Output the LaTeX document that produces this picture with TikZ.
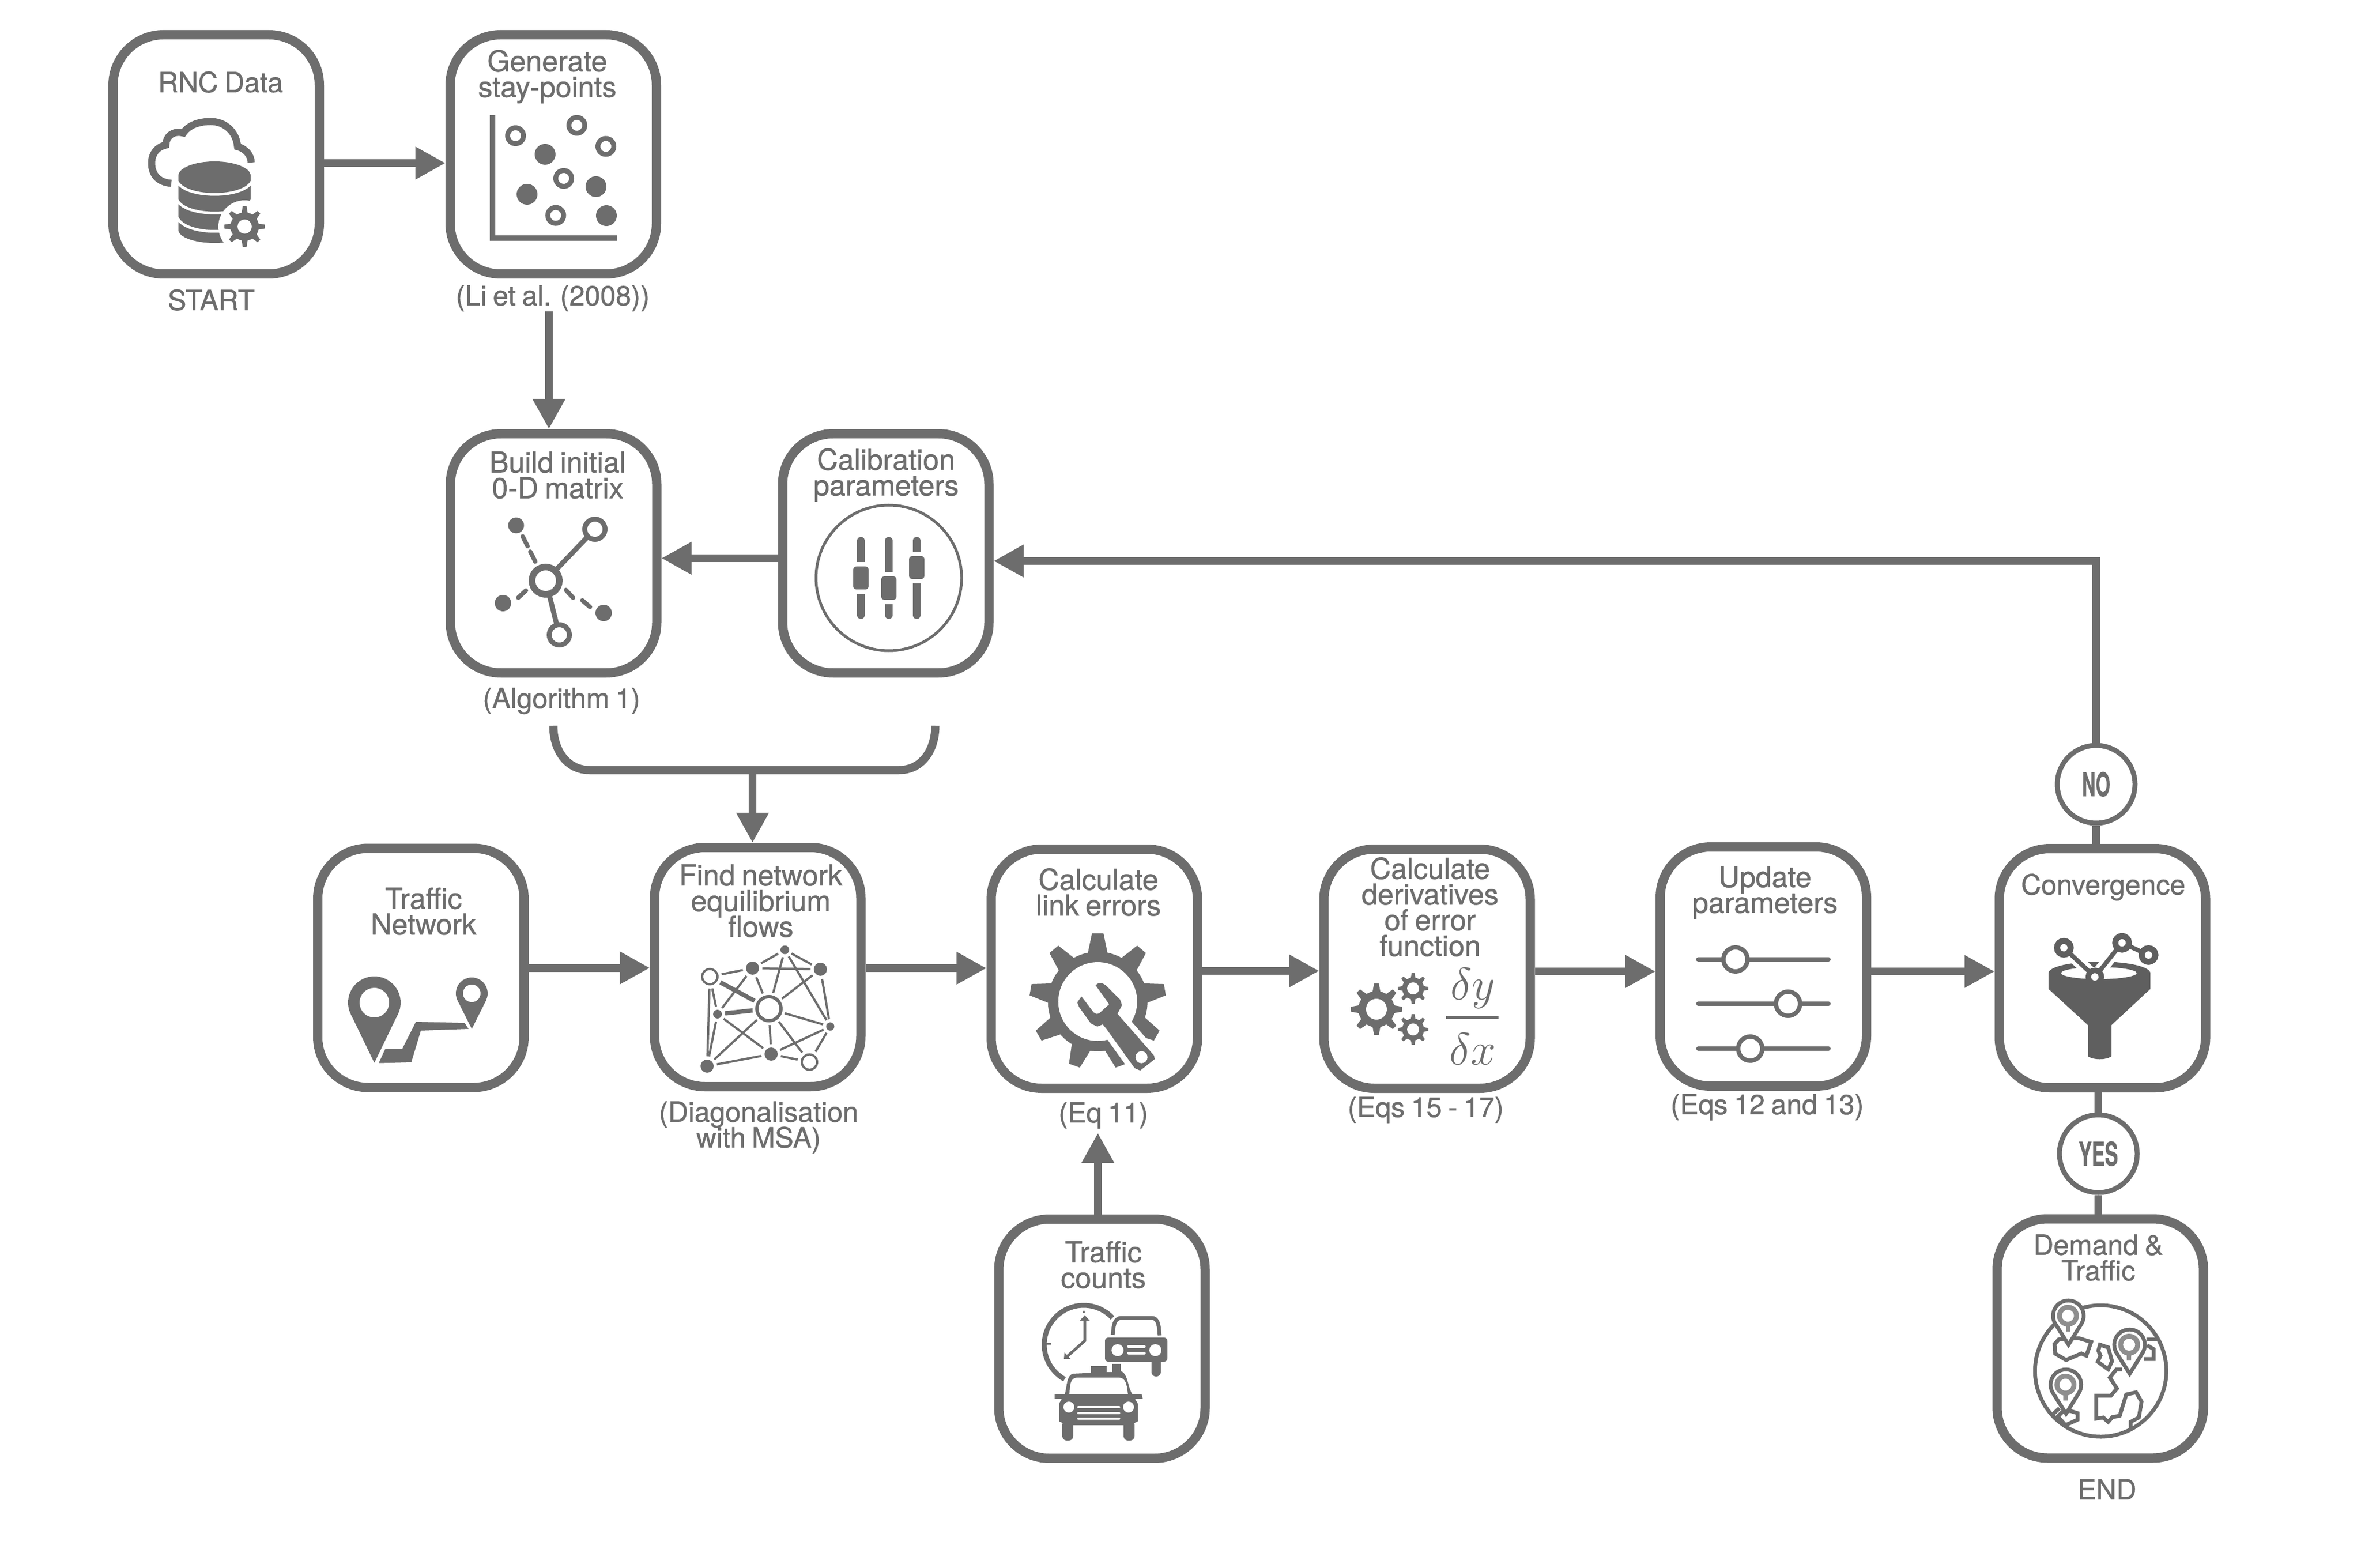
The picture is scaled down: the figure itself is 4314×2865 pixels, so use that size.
\documentclass[tikz,border=0pt]{standalone}
\usepackage{fontspec}
\setmainfont{TeX Gyre Heros}[FakeBold=0.8,WordSpace=0.8]
\usetikzlibrary{arrows.meta}
\definecolor{ink}{HTML}{6D6D6D}
\definecolor{inkdark}{HTML}{5F5F5F}
\definecolor{inklight}{HTML}{8E8E8E}
\newcommand{\lblfont}{\fontsize{13.2}{11.75}\selectfont\lineskiplimit -20pt\relax}
\newcommand{\capfont}{\fontsize{12.7}{11.75}\selectfont\lineskiplimit -20pt\relax}
\tikzset{
  lw/.style={line width=#1*0.25pt},
  cardbox/.style={draw=ink,fill=white,line width=4.25pt,rounded corners=23pt,minimum width=94.25pt,minimum height=109.25pt,inner sep=0pt,outer sep=2.125pt},
  lbl/.style={text=ink,align=center,inner sep=0pt,font=\lblfont},
  captn/.style={text=ink,align=center,inner sep=0pt,font=\capfont},
  conn/.style={draw=ink,line width=3.5pt,-{Triangle[length=13.75pt,width=14pt]}},
  plainline/.style={draw=ink,line width=3.5pt},
  decision/.style={circle,draw=ink,fill=white,line width=2.25pt,minimum size=35.5pt,inner sep=0pt,text=ink,font=\fontsize{15}{15}\selectfont\bfseries},
  netfull/.style={circle,fill=ink,inner sep=0pt,outer sep=1.5pt},
  netopen/.style={circle,draw=ink,fill=white,inner sep=0pt,outer sep=2pt},
  netedge/.style={draw=ink,line width=1pt},
  nrad/.style={minimum size=#1*0.5pt},
}
% x, y, outer radius, body radius, hole radius, teeth, phase
\newcommand{\gearicon}[7]{%
  \fill[ink] (#1,#2) circle (#4);
  \pgfmathsetmacro\gearstep{360/#6}
  \foreach \gk in {1,...,#6}{
    \pgfmathsetmacro\ga{\gk*\gearstep+#7}
    \fill[ink] ([shift={(#1,#2)}]\ga-\gearstep*0.29:#4-1) -- ([shift={(#1,#2)}]\ga-\gearstep*0.12:#3) -- ([shift={(#1,#2)}]\ga+\gearstep*0.12:#3) -- ([shift={(#1,#2)}]\ga+\gearstep*0.29:#4-1) -- cycle;
  }
  \fill[white] (#1,#2) circle (#5);
}
% x, head centre y, tip y
\newcommand{\globepin}[3]{%
  \filldraw[fill=white,draw=ink,lw=7,line join=miter] (#1,#3) -- (#1-24,#2+15) arc [start angle=148,end angle=392,radius=28] -- cycle;
  \draw[inklight,lw=9] (#1-1,#2) circle (15.5);
  \fill[inklight] (#1-5,#2+18) rectangle (#1+3,#2+29);
}
\begin{document}
\begin{tikzpicture}[x=0.25pt,y=-0.25pt]
\useasboundingbox (0,0) rectangle (4314,2865);
\fill[white] (0,0) rectangle (4314,2865);

% ---------- cards
\node[cardbox] (rnc) at (395,282) {};
\node[cardbox] (gen) at (1011,282) {};
\node[cardbox] (build) at (1011.5,1011) {};
\node[cardbox] (calib) at (1618.5,1011) {};
\node[cardbox] (tn) at (769,1768.5) {};
\node[cardbox] (find) at (1384.5,1767) {};
\node[cardbox] (calc) at (1999.5,1770) {};
\node[cardbox] (deriv) at (2607.5,1770) {};
\node[cardbox] (upd) at (3222,1766) {};
\node[cardbox] (conv) at (3841.5,1769) {};
\node[cardbox] (cnt) at (2013.5,2446) {};
\node[cardbox] (dem) at (3837.5,2445.5) {};
\node[decision] (no) at (3830,1433) {\scalebox{.57}[1]{NO}};
\node[decision] (yes) at (3834,2108) {\scalebox{.6}[1]{YES}};

% ---------- connectors
\coordinate (gentail) at (1003,569);
\coordinate (brL) at (1011,1326);
\coordinate (brR) at (1709,1326);
\coordinate (brMid) at (1375,1407);
\coordinate (eqtip) at (2006,2070);
\draw[conn] ([yshift=-4pt]rnc.east) -- ([yshift=-4pt]gen.west);
\draw[conn] (gentail) -- (gentail |- build.north);
\draw[conn] ([yshift=-2.25pt]calib.west) -- ([yshift=-2.25pt]build.east);
\draw[conn] (no.north) |- ([yshift=-3.5pt]calib.east);
\draw[plainline,line width=3.75pt] (brL) .. controls (1011,1370) and (1035,1407) .. (1077,1407) -- (1643,1407) .. controls (1685,1407) and (1709,1370) .. (brR);
\draw[conn] (brMid) -- (brMid |- find.north);
\draw[conn] (tn.east) -- (tn.east -| find.west);
\draw[conn] ([yshift=-.5pt]find.east) -- ([yshift=-.5pt]find.east -| calc.west);
\draw[conn] ([yshift=-1pt]calc.east) -- ([yshift=-1pt]deriv.west);
\draw[conn] ([yshift=-1.25pt]deriv.east) -- ([yshift=-1.25pt]deriv.east -| upd.west);
\draw[conn] ([yshift=-2.25pt]upd.east) -- ([yshift=-2.25pt]upd.east -| conv.west);
\draw[conn] (eqtip |- cnt.north) -- (eqtip);
\draw[plainline] (no.south) -- (no.south |- conv.north);
\draw[plainline] (yes.north) -- (yes.north |- conv.south);
\draw[plainline] (yes.south) -- (yes.south |- dem.north);

% ---------- labels
\node[captn] (tRnc) at (403,150) {RNC Data};
\node[lbl] (tGen) at (1000,140) {Generate\\[0pt]stay-points};
\node[captn] (tStart) at (386,548) {START};
\node[captn] (tLi) at (1010,545) {(Li et al. (2008))};
\node[lbl] (tBuild) at (1019,868) {Build initial\\0-D matrix};
\node[lbl] (tCalib) at (1619,868) {Calibration\\parameters};
\node[captn] (tAlg) at (1026,1281) {(Algorithm 1)};
\node[lbl] (tTn) at (774,1665) {Traffic\\Network};
\node[lbl] (tFind) at (1390,1646) {Find network\\equilibrium\\flows};
\node[captn] (tDiag) at (1386,2060) {(Diagonalisation\\with MSA)};
\node[lbl] (tCalc) at (2007,1630) {Calculate\\link errors};
\node[captn] (tEq) at (2016,2038) {(Eq 11)};
\node[lbl] (tDeriv) at (2613,1657) {Calculate\\derivatives\\of error\\function};
\node[captn] (tEqs) at (2605,2028) {(Eqs 15 - 17)};
\node[lbl] (tUpd) at (3225,1631) {Update\\parameters};
\node[captn] (tEqsb) at (3229,2023) {(Eqs 12 and 13)};
\node[captn] (tConv) at (3843,1621) {Convergence};
\node[captn] (tDem) at (3834,2298) {Demand \&\\Traffic};
\node[captn] (tEnd) at (3850,2721) {END};
\node[lbl] (tCnt) at (2016,2311) {Traffic\\counts};

% ---------- RNC icon
\draw[ink,lw=13] (313,335) .. controls (288,333) and (277,318) .. (277,298) .. controls (277,280) and (288,268) .. (303,265) .. controls (303,250) and (315,238) .. (335,243) .. controls (345,228) and (365,222) .. (385,222) .. controls (410,222) and (432,240) .. (434,268) .. controls (450,272) and (459,285) .. (459,297);
\fill[white] (392,321) ellipse [x radius=74,y radius=32];
\fill[ink] (326,321) rectangle (458,420);
\fill[ink] (392,321) ellipse [x radius=66,y radius=26];
\fill[ink] (392,420) ellipse [x radius=66,y radius=24];
\draw[white,lw=5] (324,332) .. controls (340,363) and (444,363) .. (460,332);
\draw[white,lw=5] (324,366) .. controls (340,397) and (444,397) .. (460,366);
\draw[white,lw=5] (324,398) .. controls (340,431) and (444,431) .. (460,398);
\fill[white] (447,414) circle (48);
\gearicon{447}{414}{37}{26}{13}{8}{0}

% ---------- scatter icon
\draw[ink,lw=10] (900,210) -- (900,435) -- (1127,435);
\foreach \sx/\sy in {942/248,1054/229,1107/267.5,1030/326,1015.4/393.6}
  \draw[ink,lw=9] (\sx,\sy) circle (14.5);
\foreach \sx/\sy in {996/282,1089/341,963/355,1108/394}
  \fill[ink] (\sx,\sy) circle (19);

% ---------- O-D icon
\draw[ink,lw=9] (997,1061) -- (1087,967);
\draw[ink,lw=9] (997,1061) -- (1022,1160);
\draw[ink,lw=12,fill=white] (997,1061) circle (25);
\draw[ink,lw=9,fill=white] (1087,967) circle (18.5);
\draw[ink,lw=9,fill=white] (1022,1160) circle (18.5);
\fill[ink] (943,960) circle (14.5);
\fill[ink] (919,1102) circle (15);
\fill[ink] (1103,1120) circle (15);
\draw[ink,lw=8,line cap=round] (955,980) -- (964,998);
\draw[ink,lw=8,line cap=round] (969,1008) -- (978,1026);
\draw[ink,lw=8,line cap=round] (947,1092) -- (961,1079);
\draw[ink,lw=8,line cap=round] (1034,1078) -- (1047,1092);
\draw[ink,lw=8,line cap=round] (1064,1097) -- (1078,1109);

% ---------- calibration icon
\draw[ink,lw=5] (1624,1056) circle (133);
\foreach \sx/\sa/\sb in {1573/1035/1077,1624/1053/1096,1675/1016/1058}{
  \draw[ink,lw=14,line cap=round] (\sx,988) -- (\sx,1124);
  \fill[white] (\sx-12,\sa-8) rectangle (\sx+12,\sb+8);
  \fill[ink,rounded corners=1.5pt] (\sx-14,\sa) rectangle (\sx+14,\sb);
}

% ---------- traffic network icon
\fill[ink] (684,1832) circle (48);
\fill[ink] (641,1853) -- (684,1942) -- (727,1853) -- cycle;
\fill[white] (684,1832) circle (27);
\fill[ink] (862,1815) circle (29);
\fill[ink] (836,1828) -- (862,1880) -- (888,1828) -- cycle;
\fill[white] (862,1815) circle (16);
\fill[ink] (692,1942.5) -- (704,1916.5) -- (735,1916.5) -- (760,1867) -- (849,1869) -- (856,1880) -- (769,1883) -- (751.5,1941) -- cycle;

% ---------- equilibrium network icon
\node[netopen,lw=4,nrad=14] (nA) at (1297,1784.5) {};
\node[netfull,nrad=12] (nB) at (1375,1769) {};
\node[netfull,nrad=12] (nC) at (1499,1771) {};
\node[netfull,nrad=8] (nD) at (1434,1735.5) {};
\node[netopen,lw=6,nrad=22] (nE) at (1405,1843) {};
\node[netfull,nrad=8] (nF) at (1311,1853) {};
\node[netfull,nrad=7.5] (nG) at (1517,1875.6) {};
\node[netfull,nrad=12] (nH) at (1409,1926) {};
\node[netopen,lw=4,nrad=14] (nI) at (1479,1940.6) {};
\node[netfull,nrad=12] (nJ) at (1292,1948) {};
\foreach \na/\nb in {nA/nB,nB/nD,nD/nC,nB/nC,nE/nB,nE/nC,nE/nG,nE/nH,nE/nI,nE/nJ,nD/nE,nD/nG,nC/nG,nA/nF,nA/nJ,nB/nF,nF/nH,nF/nJ,nG/nH,nG/nI,nH/nI,nH/nJ}
  \draw[netedge] (\na) -- (\nb);
\draw[netedge,line width=2pt] (nA) -- (nE);
\draw[netedge,line width=2pt] (nE) -- (nF);

% ---------- wrench icon
\gearicon{2005.7}{1830}{125}{91}{72}{9}{-90}
\filldraw[fill=ink,draw=white,lw=20,line join=round] (2001.7,1800) -- (2006.7,1796.7) -- (2013.3,1796) -- (2020,1800) -- (2046.7,1826.7) -- (2050,1836.7) -- (2041.7,1852.3) -- (2108.3,1928.3) -- (2110,1935) -- (2083.3,1956) -- (2073.3,1951.7) -- (2021.7,1880) -- (2015,1871.7) -- (2005,1875.7) -- (1993.3,1870) -- (1971.7,1840) -- (1968.3,1831.7) -- (1976,1820.7) -- (1998.3,1850) -- (2004,1852.7) -- (2008.3,1851.7) -- (2026.7,1835) -- cycle;
\fill[ink] (2001.7,1800) -- (2006.7,1796.7) -- (2013.3,1796) -- (2020,1800) -- (2046.7,1826.7) -- (2050,1836.7) -- (2041.7,1852.3) -- (2108.3,1928.3) -- (2110,1935) -- (2083.3,1956) -- (2073.3,1951.7) -- (2021.7,1880) -- (2015,1871.7) -- (2005,1875.7) -- (1993.3,1870) -- (1971.7,1840) -- (1968.3,1831.7) -- (1976,1820.7) -- (1998.3,1850) -- (2004,1852.7) -- (2008.3,1851.7) -- (2026.7,1835) -- cycle;
\fill[white] (2085.7,1931.7) circle (11);

% ---------- derivative icon
\gearicon{2515}{1844}{47}{33}{19}{8}{0}
\gearicon{2582}{1806}{28}{20}{11}{8}{0}
\gearicon{2582}{1881}{28}{20}{11}{8}{0}
\node[text=ink,inner sep=0pt,font=\fontsize{21}{21}\selectfont] (dy) at (2691,1806) {\(\delta y\)};
\node[text=ink,inner sep=0pt,font=\fontsize{21}{21}\selectfont] (dx) at (2691,1917) {\(\delta x\)};
\draw[ink,lw=6] (2642,1859) -- (2738,1859);

% ---------- sliders icon
\foreach \sy/\sk in {1753/3171,1834/3267,1916/3198}{
  \draw[ink,lw=8,line cap=round] (3103,\sy) -- (3341,\sy);
  \draw[ink,lw=8,fill=white] (\sk,\sy) circle (22);
}

% ---------- funnel icon
\fill[inkdark] (3743,1778) -- (3743,1807) -- (3815,1873) -- (3815,1930) .. controls (3825,1937) and (3848,1937) .. (3858,1930) -- (3858,1873) -- (3929,1807) -- (3929,1778) -- cycle;
\fill[inkdark] (3836,1778) ellipse [x radius=93,y radius=21];
\fill[white] (3835,1778) ellipse [x radius=69,y radius=11];
\draw[white,lw=22] (3771,1731.7) -- (3827.7,1785) -- (3877.3,1722.7);
\draw[inkdark,lw=8] (3771,1731.7) -- (3827.7,1785) -- (3877.3,1722.7) -- (3925.7,1745);
\foreach \fx/\fy in {3771/1731.7,3877.3/1722.7,3925.7/1745}
  \draw[inkdark,lw=11,fill=white] (\fx,\fy) circle (12.5);
\draw[inkdark,lw=10,fill=white] (3827.7,1785) circle (12);

% ---------- globe icon
\draw[ink,lw=7] (3838.3,2505) circle (120);
\begin{scope}[draw=ink,lw=7,line join=miter]
\draw (3762,2447) -- (3754,2456) -- (3755,2473) -- (3775,2485) -- (3803,2473) -- (3812,2477) -- (3821,2452) -- (3798,2445) -- cycle;
\draw (3837,2457) -- (3852,2462) -- (3859,2487) -- (3852,2502) -- (3833,2488) -- (3838,2477) -- (3834,2468) -- cycle;
\draw (3922,2447) -- (3942,2447);
\draw (3923,2458) -- (3935,2465) -- (3935,2483) -- (3917,2483);
\draw (3877,2502) -- (3867,2502) -- (3855,2517) -- (3868,2537) -- (3857,2550) -- (3830,2550) -- (3830,2592) -- (3843,2590) -- (3852,2598) -- (3860,2589) -- (3873,2587) -- (3885,2548) -- (3903,2544) -- (3913,2561) -- (3908,2590) -- (3893,2598) -- (3893,2612);
\draw (3760,2588) -- (3770,2578) -- (3783,2578) -- (3796,2582) -- (3796,2594) -- (3774,2604) -- cycle;
\draw (3752,2583) -- (3763,2573);
\end{scope}
\globepin{3779.5}{2404}{2457}
\globepin{3891.3}{2457}{2510}
\globepin{3775}{2530}{2583}

% ---------- traffic counts icon
\draw[ink,lw=9] ([shift={(1980,2457)}]119:72) arc [start angle=119,end angle=317,radius=72];
\draw[ink,lw=3] (1980,2395) -- (1980,2399);
\draw[ink,lw=3] (1910,2455) -- (1921,2455);
\draw[ink,lw=5] (1982,2410) -- (1982,2450) -- (1948,2480);
\fill[ink] (1982,2403) -- (1973,2413) -- (1991,2413) -- cycle;
\fill[ink] (1944,2483) -- (1945,2471) -- (1956,2483) -- cycle;
\fill[ink,rounded corners=1.5pt] (2019,2444) rectangle (2133,2488);
\fill[white] (2042,2467) circle (11);
\fill[white] (2111,2467) circle (11);
\draw[white,lw=5,line cap=round] (2062,2460) -- (2091,2460);
\draw[white,lw=5,line cap=round] (2062,2472) -- (2091,2472);
\draw[ink,lw=7] (2033,2439) .. controls (2035,2425) and (2034,2408) .. (2050,2408) -- (2104,2408) .. controls (2118,2408) and (2117,2425) .. (2119,2440);
\fill[ink,rounded corners=2pt] (2104,2480) rectangle (2121,2515);
\fill[ink] (2032,2492) rectangle (2048,2510);
\fill[ink] (1993,2496) rectangle (2022,2510);
\fill[ink] (1945,2549) .. controls (1950,2535) and (1948,2514) .. (1960,2510) -- (2050,2506) .. controls (2062,2514) and (2060,2535) .. (2070,2549) -- cycle;
\fill[white] (1954,2549) .. controls (1955,2530) and (1955,2517) .. (1970,2517) -- (2044,2517) .. controls (2057,2517) and (2059,2530) .. (2061,2549) -- cycle;
\fill[ink] (1927,2547) -- (2086,2547) -- (2088,2556) -- (1927,2556) -- cycle;
\fill[ink] (1940,2556) -- (1935,2565) -- (1935,2597) -- (1950,2604) -- (2065,2604) -- (2079,2597) -- (2079,2565) -- (2074,2556) -- cycle;
\fill[ink,rounded corners=2pt] (1941,2595) rectangle (1961,2632);
\fill[ink,rounded corners=2pt] (2053,2595) rectangle (2073,2632);
\fill[white] (1953,2571) circle (10);
\fill[white] (2062,2571) circle (10);
\foreach \gy in {2571,2582,2592}
  \draw[white,lw=3.5,line cap=round] (1970,\gy) -- (2045,\gy);
\end{tikzpicture}
\end{document}
